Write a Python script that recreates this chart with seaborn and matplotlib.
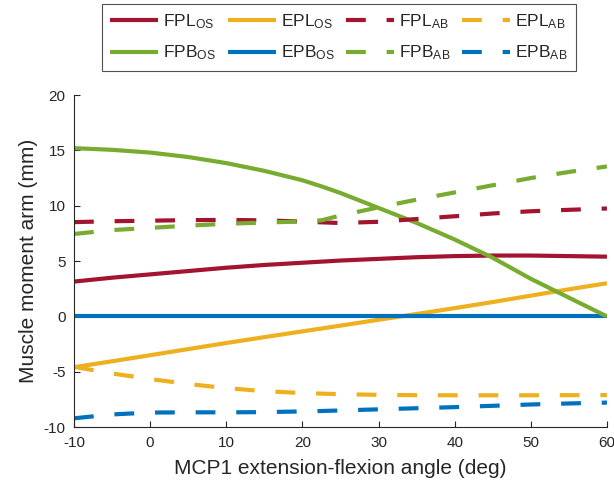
import numpy as np
import pandas as pd
import matplotlib
matplotlib.use("Agg")
import matplotlib.pyplot as plt
import seaborn as sns

# ---------------- data ----------------
angles = [-10, -5, 0, 5, 10, 15, 20, 22.5, 25, 30, 35, 40, 45, 50, 55, 60]

fpl_os = [3.15, 3.5, 3.8, 4.1, 4.4, 4.65, 4.85, 4.95, 5.05, 5.2, 5.35, 5.45, 5.5, 5.5, 5.45, 5.4]
epl_os = [-4.58, -4.05, -3.5, -2.95, -2.4, -1.87, -1.35, -1.09, -0.83, -0.3, 0.22, 0.75, 1.3, 1.88, 2.45, 3.0]
fpb_os = [15.2, 15.05, 14.8, 14.4, 13.85, 13.15, 12.3, 11.75, 11.15, 9.8, 8.45, 6.95, 5.3, 3.4, 1.7, 0.0]
epb_os = [0.0, 0.0, 0.0, 0.0, 0.0, 0.0, 0.0, 0.0, 0.0, 0.0, 0.0, 0.0, 0.0, 0.0, 0.0, 0.0]

fpl_ab = [8.52, 8.6, 8.65, 8.7, 8.72, 8.68, 8.57, 8.5, 8.44, 8.55, 8.8, 9.05, 9.3, 9.5, 9.63, 9.75]
epl_ab = [-4.55, -5.15, -5.65, -6.1, -6.47, -6.75, -6.92, -6.97, -7.02, -7.08, -7.11, -7.12, -7.12, -7.12, -7.11, -7.1]
fpb_ab = [7.45, 7.8, 8.0, 8.2, 8.37, 8.48, 8.58, 8.68, 9.12, 9.85, 10.55, 11.2, 11.85, 12.5, 13.05, 13.55]
epb_ab = [-9.2, -8.85, -8.68, -8.66, -8.66, -8.64, -8.58, -8.54, -8.49, -8.39, -8.29, -8.19, -8.07, -7.95, -7.86, -7.78]

labels = {
    "fpl_os": r"FPL$_{\mathrm{OS}}$", "epl_os": r"EPL$_{\mathrm{OS}}$",
    "fpb_os": r"FPB$_{\mathrm{OS}}$", "epb_os": r"EPB$_{\mathrm{OS}}$",
    "fpl_ab": r"FPL$_{\mathrm{AB}}$", "epl_ab": r"EPL$_{\mathrm{AB}}$",
    "fpb_ab": r"FPB$_{\mathrm{AB}}$", "epb_ab": r"EPB$_{\mathrm{AB}}$",
}
x_ticks = [-10, 0, 10, 20, 30, 40, 50, 60]
y_ticks = [-10, -5, 0, 5, 10, 15, 20]
x_label = "MCP1 extension-flexion angle (deg)"
y_label = "Muscle moment arm (mm)"

# ---------------- style ----------------
sns.set_style("ticks")
plt.rcParams["font.family"] = ["Liberation Sans", "DejaVu Sans"]
plt.rcParams["mathtext.fontset"] = "custom"
plt.rcParams["mathtext.rm"] = "Liberation Sans"
plt.rcParams["mathtext.it"] = "Liberation Sans:italic"
plt.rcParams["mathtext.bf"] = "Liberation Sans:bold"
plt.rcParams["axes.unicode_minus"] = False

RED = "#A2142F"
YEL = "#EDB120"
GRN = "#77AC30"
BLU = "#0072BD"
DARK = "#262626"

fig = plt.figure(figsize=(6.14, 4.91), dpi=100)
ax = fig.add_axes([0.1205, 0.130, 0.868, 0.6765])

series = [
    ("fpl_os", fpl_os, RED, False),
    ("epl_os", epl_os, YEL, False),
    ("epb_os", epb_os, BLU, False),
    ("fpb_os", fpb_os, GRN, False),
    ("fpl_ab", fpl_ab, RED, True),
    ("epl_ab", epl_ab, YEL, True),
    ("fpb_ab", fpb_ab, GRN, True),
    ("epb_ab", epb_ab, BLU, True),
]

handles = {}
for key, vals, col, dashed in series:
    df = pd.DataFrame({"angle": angles, "arm": vals})
    sns.lineplot(data=df, x="angle", y="arm", ax=ax, color=col, linewidth=3,
                 label=labels[key], legend=False)
    ln = ax.lines[-1]
    ln.set_solid_capstyle("butt")
    ln.set_solid_joinstyle("round")
    if dashed:
        ln.set_dashes((4.75, 5.0))
        ln.set_dash_capstyle("butt")
    handles[key] = ln

ax.set_xlim(-10, 60)
ax.set_ylim(-10, 20)
ax.set_xticks(x_ticks)
ax.set_yticks(y_ticks)
ax.tick_params(direction="in", length=4.5, width=0.8, colors=DARK, labelsize=11, pad=6)
for s in ["left", "bottom"]:
    ax.spines[s].set_color(DARK)
    ax.spines[s].set_linewidth(0.8)
sns.despine(ax=ax)
ax.set_xlabel(x_label, fontsize=15, color=DARK, labelpad=7)
ax.set_ylabel(y_label, fontsize=15, color=DARK, labelpad=4)

order = ["fpl_os", "fpb_os", "epl_os", "epb_os", "fpl_ab", "fpb_ab", "epl_ab", "epb_ab"]
leg = fig.legend([handles[k] for k in order], [labels[k] for k in order],
                 ncol=4, loc="center", bbox_to_anchor=(0.552, 0.9236),
                 fontsize=12.5, handlelength=2.77, handletextpad=0.3,
                 columnspacing=0.64, labelspacing=0.72, borderpad=0.47,
                 frameon=True, fancybox=False, edgecolor=DARK)
leg.get_frame().set_linewidth(0.8)

fig.savefig("out.png", dpi=100)
